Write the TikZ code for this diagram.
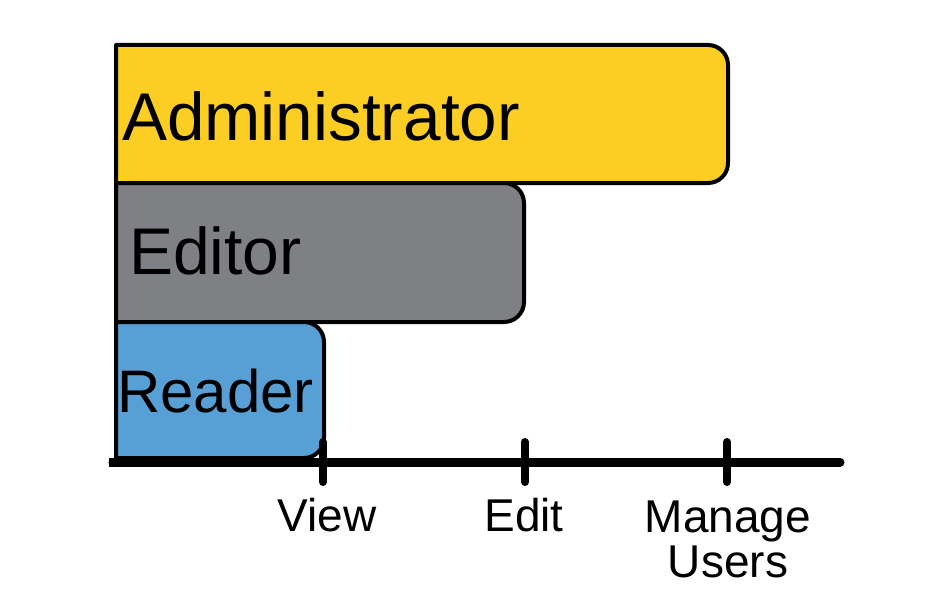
\documentclass[tikz,border=0pt]{standalone}
\usepackage{fontspec}
\setmainfont{Liberation Sans}
\definecolor{adminY}{HTML}{FCCD23}
\definecolor{editG}{HTML}{7F8083}
\definecolor{readB}{HTML}{579FD5}
\begin{document}
\begin{tikzpicture}[x=1pt,y=-1pt,
  bar/.style={draw=black,line width=4pt,line join=round},
  barlabel/.style={inner sep=0pt,anchor=base west},
  ticklabel/.style={inner sep=0pt,anchor=base,font=\fontsize{46}{44.5}\selectfont,align=center},
  axisline/.style={line width=9pt},
  tickline/.style={line width=8pt,line cap=round}]
\useasboundingbox (0,0) rectangle (936,602);
% boxes
\draw[bar,fill=adminY] (116,183) -- (116,45) -- (708,45) arc[start angle=-90,end angle=0,radius=20] -- (728,163) arc[start angle=0,end angle=90,radius=20] -- cycle;
\draw[bar,fill=editG] (116,322) -- (116,183) -- (504,183) arc[start angle=-90,end angle=0,radius=20] -- (524,302) arc[start angle=0,end angle=90,radius=20] -- cycle;
\draw[bar,fill=readB] (116,458) -- (116,322) -- (304,322) arc[start angle=-90,end angle=0,radius=20] -- (324,438) arc[start angle=0,end angle=90,radius=20] -- cycle;
% labels
\node[barlabel,font=\fontsize{67.5}{67.5}\selectfont] (admin) at (122,140) {Administrator};
\node[barlabel,font=\fontsize{66}{66}\selectfont] (editor) at (129,274) {Editor};
\node[barlabel,font=\fontsize{60}{60}\selectfont] (reader) at (117,412) {Reader};
% axis
\coordinate (a0) at (113,462);
\coordinate (a1) at (840,462);
\draw[axisline,line cap=round] (a0) -- (a1);
\draw[axisline,line cap=rect] (a0) -- ++(5,0);
\foreach \n/\x in {view/323,edit/525,manage/727}{
  \coordinate (\n top) at (\x,442);
  \coordinate (\n bot) at (\x,482);
  \draw[tickline] (\n top) -- (\n bot);
}
\node[ticklabel] (lview) at (327,531) {View};
\node[ticklabel] (ledit) at (524,531) {Edit};
\node[ticklabel] (lmanage) at (728,577) {Manage\\Users};
\end{tikzpicture}
\end{document}
